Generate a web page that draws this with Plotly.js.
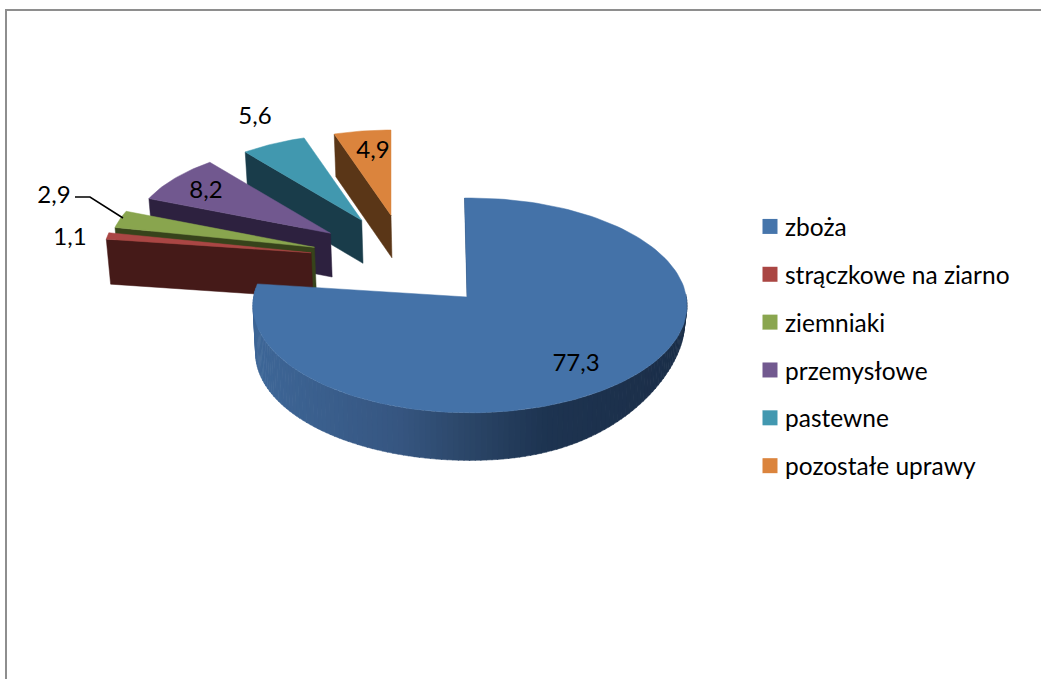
<!DOCTYPE html>
<html><head><meta charset="utf-8">
<script src="https://cdn.plot.ly/plotly-3.0.1.min.js"></script>
<style>html,body{margin:0;padding:0;background:#fff}</style></head>
<body><div id="chart" style="width:1041px;height:679px"></div>
<script>
const categories = ['zboża','strączkowe na ziarno','ziemniaki','przemysłowe','pastewne','pozostałe uprawy'];
const values = [77.3,1.1,2.9,8.2,5.6,4.9];

const topColors = ['#4472A8','#AA4644','#89A54E','#71588F','#4198AF','#DB843D'];
const wallColors = ['#1C3049','#451A18','#37431B','#2D213F','#193C4A','#5A3617'];
const legendColors = ['#4675AB','#AA4643','#8AA64F','#72598F','#4298B0','#DB843D'];
const labelPos = [[576,365],[70,239],[54,197],[206,192],[255,118],[373,152]];
const leader = {x:[75,90,123], y:[197,197,218]};
const FONT = 'Lato, Carlito, Calibri, sans-serif';

// projection of the tilted pie into plot units
const P = {cx:470, cy:305.4, rx:217, ry:107.4, ax:467, ay:297, depth:47.6, exRy:106,
           ex:0.875, exDrop:0.045, exDir:320, persp:0.0024, sxBoost:0.06, vanish:0.012};
const rad = d => d*Math.PI/180;
const cum = []; let run = 0;
values.forEach(v => {cum.push([run*3.6,(run+v)*3.6]); run += v;});
const traces = [];
function poly(xs, ys, color, lw){
  traces.push({type:'scatter',mode:'lines',x:xs.concat(xs[0]),y:ys.concat(ys[0]),fill:'toself',
    fillcolor:color,line:{color:color,width:lw||0.5},showlegend:false,hoverinfo:'skip'});
}
function lerpColor(stops,x){
  for(let i=1;i<stops.length;i++){ if(x<=stops[i][0]){
    const a=stops[i-1],b=stops[i],t=Math.max(0,(x-a[0])/(b[0]-a[0]));
    const c=[0,1,2].map(k=>Math.round(a[1][k]+(b[1][k]-a[1][k])*t));
    return 'rgb('+c.join(',')+')';
  }}
  const l=stops[stops.length-1][1]; return 'rgb('+l.join(',')+')';
}
// exploded slices: far ones first
for(let i=values.length-1;i>=1;i--){
  const [a0,a1]=cum[i], b=(a0+a1)/2, phi=(P.exDir+b)/2;
  const mag=P.ex-P.exDrop*Math.pow((b-P.exDir)/40,2);
  const ax=P.ax+mag*P.rx*Math.sin(rad(phi)), ay=P.ay-mag*P.exRy*Math.cos(rad(phi));
  const s=1-P.persp*(P.ay-ay), sx=s+P.sxBoost, d=P.depth*Math.sqrt(s);
  const pt=t=>[ax+sx*P.rx*Math.sin(rad(t)), ay-s*P.exRy*Math.cos(rad(t))];
  const low=pt(a0), shift=x=>x+(P.cx-x)*P.vanish;
  poly([ax,low[0],shift(low[0]),shift(ax)],[ay,low[1],low[1]+d,ay+d],wallColors[i]);
  const xs=[ax],ys=[ay];
  for(let k=0;k<=24;k++){const p=pt(a0+(a1-a0)*k/24);xs.push(p[0]);ys.push(p[1]);}
  poly(xs,ys,topColors[i]);
}
// main slice
const t0=-1.45, tSpan=283/cum[0][1];
const mainPt=th=>{const t=t0+th*tSpan;return [P.cx+P.rx*Math.sin(rad(t)),P.cy-P.ry*Math.cos(rad(t))];};
const grad=[[250,[62,103,152]],[400,[54,86,129]],[470,[43,70,104]],[550,[29,51,80]],[690,[27,46,72]]];
const wallDepth=t=>{const sn=Math.sin(rad(t));return P.depth*(1-(sn>0?0.6*sn*sn*sn:0));};
for(let t=84;t<=278;t+=1.5){
  const xs=[],ys=[],bx=[],by=[];
  [t,t+1.7].forEach(u=>{const x=P.cx+P.rx*Math.sin(rad(u)),y=P.cy-P.ry*Math.cos(rad(u));
    xs.push(x);ys.push(y);bx.push(x+(P.cx-x)*P.vanish);by.push(y+wallDepth(u));});
  poly([xs[0],xs[1],bx[1],bx[0]],[ys[0],ys[1],by[1],by[0]],lerpColor(grad,xs[0]));
}
{
  const xs=[P.ax],ys=[P.ay];
  for(let k=0;k<=160;k++){const p=mainPt(cum[0][1]*k/160);xs.push(p[0]);ys.push(p[1]);}
  const top=mainPt(0);
  traces.push({type:'scatter',mode:'lines',x:[top[0]+0.6,P.ax+0.6],y:[top[1],P.ay],
    line:{color:wallColors[0],width:1.5},showlegend:false,hoverinfo:'skip'});
  poly(xs,ys,topColors[0]);
}
traces.push({type:'scatter',mode:'lines',x:leader.x,y:leader.y,line:{color:'#000',width:1.5},showlegend:false,hoverinfo:'skip'});
traces.push({type:'scatter',mode:'text',x:labelPos.map(p=>p[0]),y:labelPos.map(p=>p[1]),
  text:values.map(v=>v.toFixed(1).replace('.',',')),textposition:'middle center',
  textfont:{family:FONT,size:24,color:'#000'},showlegend:false,hoverinfo:'skip'});
categories.forEach((c,i)=>traces.push({type:'scatter',mode:'markers',x:[null],y:[null],name:c,legendgroup:c,
  marker:{symbol:'square',size:15,color:legendColors[i]},showlegend:true}));

const layout={width:1041,height:679,autosize:false,margin:{l:0,r:0,t:0,b:0},
  paper_bgcolor:'#fff',plot_bgcolor:'#fff',showlegend:true,
  xaxis:{range:[0,1041],visible:false,fixedrange:true},
  yaxis:{range:[679,0],visible:false,fixedrange:true},
  legend:{x:750/1041,xanchor:'left',y:1-204/679,yanchor:'top',font:{family:FONT,size:24.5,color:'#000'},
    tracegroupgap:13,itemwidth:30,bgcolor:'rgba(0,0,0,0)',traceorder:'grouped'},
  shapes:[
    {type:'line',xref:'paper',yref:'paper',x0:5/1041,x1:1,y0:1-10/679,y1:1-10/679,line:{color:'#8E8E8E',width:2}},
    {type:'line',xref:'paper',yref:'paper',x0:6/1041,x1:6/1041,y0:1-9/679,y1:0,line:{color:'#8E8E8E',width:2}}
  ]};
Plotly.newPlot('chart',traces,layout,{displayModeBar:false,staticPlot:true}).then(()=>{
  document.querySelectorAll('#chart .legendtext').forEach(t=>{
    t.setAttribute('x', parseFloat(t.getAttribute('x'))-5);
  });
});
</script></body></html>
